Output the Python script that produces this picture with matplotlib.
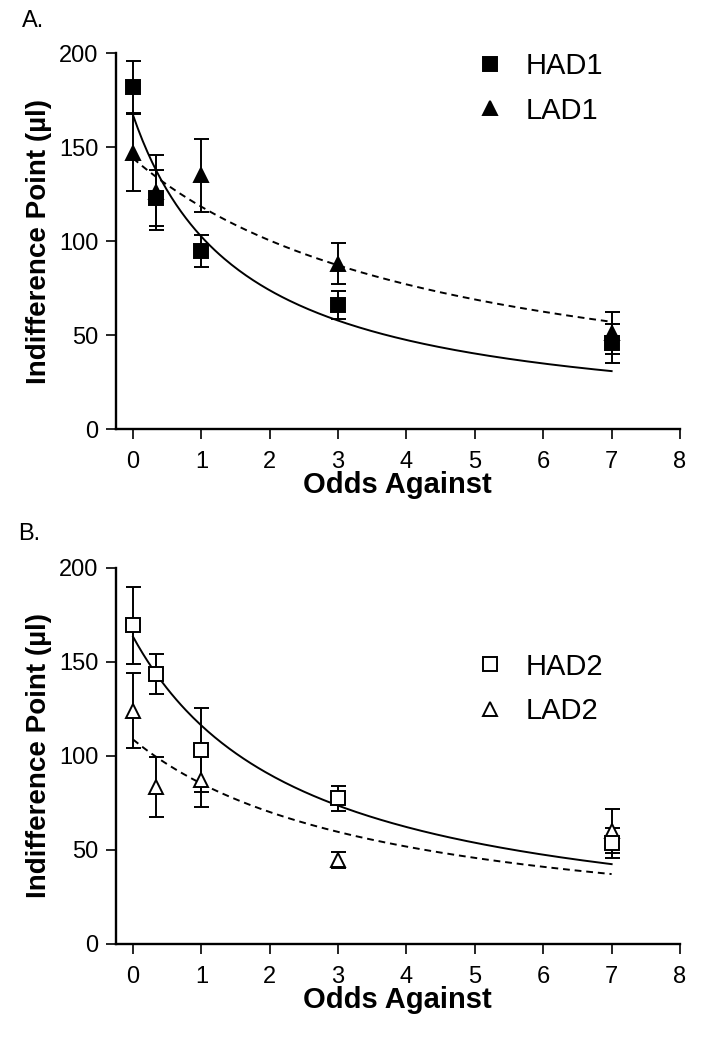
import numpy as np
import matplotlib
matplotlib.use('Agg')
import matplotlib.pyplot as plt
from matplotlib.lines import Line2D

plt.rcParams['font.family'] = ['Liberation Sans', 'DejaVu Sans']

# odds against
odds = [0, 0.33, 1, 3, 7]

# panel A
had1 = [182, 123, 94.5, 66, 45.5]
had1_err = [14, 15, 8.5, 7.5, 10.4]
lad1 = [147, 126, 135, 88, 51]
lad1_err = [20.5, 20, 19.5, 11, 11]

# panel B
had2 = [169.5, 143.5, 103, 77.5, 53.5]
had2_err = [20.5, 10.5, 22.3, 6.5, 8]
lad2 = [124, 83.5, 87, 44.7, 60]
lad2_err = [20, 16, 14.3, 4.3, 11.6]

# hyperbolic fits V = A / (1 + k*odds)
fit_had1 = (167, 0.632)
fit_lad1 = (144, 0.218)
fit_had2 = (163.5, 0.407)
fit_lad2 = (108.8, 0.275)

yticks = [0, 50, 100, 150, 200]
xticks = [0, 1, 2, 3, 4, 5, 6, 7, 8]

W, H = 701, 1050
fig = plt.figure(figsize=(W / 100, H / 100), dpi=100)

left = 115.7 / W
width = (680 - 115.7) / W
axh = 376 / H
ax1 = fig.add_axes([left, 1 - 429 / H, width, axh])
ax2 = fig.add_axes([left, 1 - 944 / H, width, axh])


def hyperbola(fit, xs):
    a, k = fit
    return a / (1 + k * xs)


def panel(ax, hi, hi_err, lo, lo_err, fit_hi, fit_lo, open_marks, names, leg_top):
    xs = np.linspace(0, 7, 200)
    ax.plot(xs, hyperbola(fit_hi, xs), color='k', lw=1.4, zorder=2)
    ax.plot(xs, hyperbola(fit_lo, xs), color='k', lw=1.4, ls=(0, (3.5, 2.5)), zorder=2)
    face = 'white' if open_marks else 'black'
    ax.errorbar(odds, lo, yerr=lo_err, fmt='none', ecolor='k', elinewidth=1.4,
                capsize=5.4, capthick=1.4, zorder=3)
    ax.errorbar(odds, hi, yerr=hi_err, fmt='none', ecolor='k', elinewidth=1.4,
                capsize=5.4, capthick=1.4, zorder=3)
    ax.plot(odds, lo, '^', ms=10.5, mfc=face, mec='k', mew=1.4, ls='none', zorder=4)
    ax.plot(odds, hi, 's', ms=10, mfc=face, mec='k', mew=1.4, ls='none', zorder=5)

    ax.set_xlim(-0.253, 8)
    ax.set_ylim(0, 200)
    ax.set_xticks(xticks)
    ax.set_yticks(yticks)
    for s in ['top', 'right']:
        ax.spines[s].set_visible(False)
    for s in ['left', 'bottom']:
        ax.spines[s].set_linewidth(1.7)
    ax.tick_params(direction='out', length=7.5, width=1.2, labelsize=17, pad=5)
    ax.tick_params(axis='x', pad=8)
    ax.set_xlabel('Odds Against', fontsize=21, fontweight='bold')
    ax.set_ylabel('Indifference Point (µl)', fontsize=20, fontweight='bold')
    ax.xaxis.set_label_coords(0.5, -0.113)
    ax.yaxis.set_label_coords(-0.112, 0.5)

    handles = [Line2D([], [], marker='s', ms=10, mfc=face, mec='k', mew=1.4, ls='none'),
               Line2D([], [], marker='^', ms=10.5, mfc=face, mec='k', mew=1.4, ls='none')]
    ax.legend(handles, names, loc='upper left', frameon=False, fontsize=21,
              bbox_to_anchor=((475 - 115.7) / (680 - 115.7), leg_top),
              borderaxespad=0, borderpad=0, handlelength=1.0, handletextpad=0.75,
              labelspacing=0.56)


panel(ax1, had1, had1_err, lad1, lad1_err, fit_had1, fit_lad1, False,
      ['HAD1', 'LAD1'], 1.002)
panel(ax2, had2, had2_err, lad2, lad2_err, fit_had2, fit_lad2, True,
      ['HAD2', 'LAD2'], 0.775)

fig.text(22 / W, 1 - 27 / H, 'A.', fontsize=17, va='baseline')
fig.text(18 / W, 1 - 540 / H, 'B.', fontsize=17, va='baseline')

fig.savefig('out.png', dpi=100)
